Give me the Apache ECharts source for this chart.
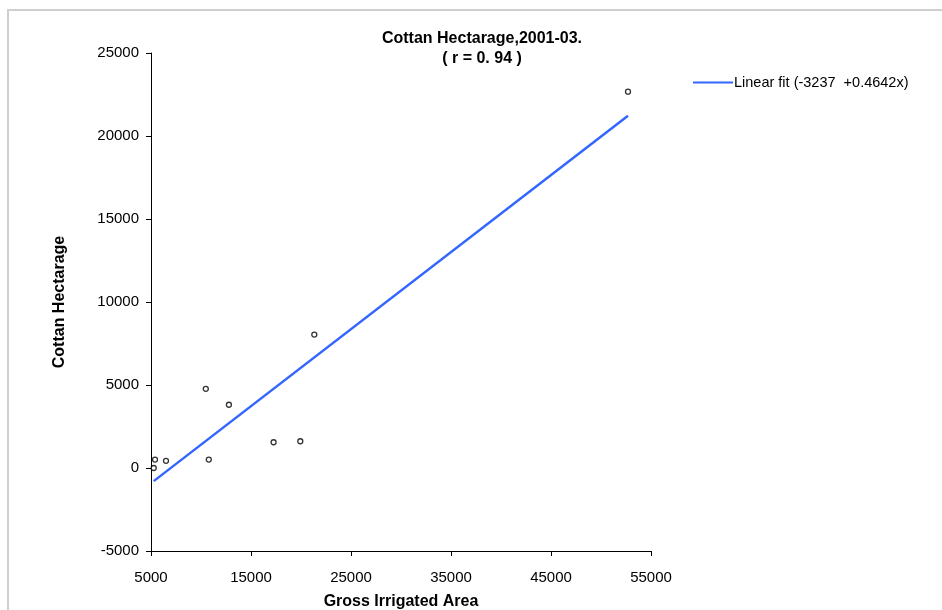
<!DOCTYPE html>
<html>
<head>
<meta charset="utf-8">
<script src="https://cdn.jsdelivr.net/npm/echarts@6/dist/echarts.min.js"></script>
<style>
  html, body { margin: 0; padding: 0; background: #fff; }
  #chart { width: 942px; height: 610px; }
</style>
</head>
<body>
<div id="chart"></div>
<script>
// Gross irrigated area (x) against cotton hectarage (y), 2001-03
const irrigatedArea = [5270, 5400, 6500, 10480, 10780, 12790, 17260, 19930, 21330, 52700];
const cottonHectarage = [0, 510, 430, 4770, 510, 3810, 1550, 1610, 8040, 22670];

// Fitted line coefficients: y = intercept + slope * x
const fitIntercept = -3237;
const fitSlope = 0.4642;
const fitLabel = 'Linear fit (-3237  +0.4642x)';

const titleText = 'Cottan Hectarage,2001-03.\n( r = 0. 94 )';
const xName = 'Gross Irrigated Area';
const yName = 'Cottan Hectarage';

const points = irrigatedArea.map((x, i) => [x, cottonHectarage[i]]);
const xMin = Math.min(...irrigatedArea);
const xMax = Math.max(...irrigatedArea);
const fitLine = [xMin, xMax].map(x => [x, fitIntercept + fitSlope * x]);

const FONT = '"Liberation Sans", Arial, sans-serif';
const plain = v => String(v);

const chart = echarts.init(document.getElementById('chart'), null, { renderer: 'canvas' });
chart.setOption({
  animation: false,
  backgroundColor: '#ffffff',
  graphic: [{
    type: 'rect',
    shape: { x: 8, y: 10, width: 1000, height: 700 },
    style: { fill: 'none', stroke: '#cfcfcf', lineWidth: 2 },
    silent: true
  }],
  title: {
    text: titleText,
    left: 482,
    top: 29,
    padding: 0,
    textAlign: 'center',
    textStyle: { fontFamily: FONT, fontSize: 16, fontWeight: 'bold', color: '#000', lineHeight: 20 }
  },
  legend: {
    data: [{ name: fitLabel, icon: 'rect' }],
    left: 693,
    top: 75,
    padding: 0,
    itemWidth: 40,
    itemHeight: 2,
    itemGap: 0,
    textStyle: { fontFamily: FONT, fontSize: 14.5, color: '#000', padding: [0, 0, 0, -4] }
  },
  grid: { left: 151, right: 291, top: 53, bottom: 59, outerBoundsMode: 'none', containLabel: false },
  xAxis: {
    type: 'value',
    min: 5000, max: 55000, interval: 10000,
    name: xName,
    nameLocation: 'middle',
    nameGap: 43,
    nameTextStyle: { fontFamily: FONT, fontSize: 16, fontWeight: 'bold', color: '#000' },
    axisLine: { onZero: false, lineStyle: { color: '#000', width: 1 } },
    axisTick: { show: true, inside: false, length: 5, lineStyle: { color: '#000' } },
    axisLabel: { fontFamily: FONT, fontSize: 15, color: '#000', margin: 19, formatter: plain },
    splitLine: { show: false }
  },
  yAxis: {
    type: 'value',
    min: -5000, max: 25000, interval: 5000,
    name: yName,
    nameLocation: 'middle',
    nameGap: 83,
    nameRotate: 90,
    nameTextStyle: { fontFamily: FONT, fontSize: 16, fontWeight: 'bold', color: '#000' },
    axisLine: { show: true, onZero: false, lineStyle: { color: '#000', width: 1 } },
    axisTick: { show: true, inside: false, length: 5, lineStyle: { color: '#000' } },
    axisLabel: { fontFamily: FONT, fontSize: 15, color: '#000', margin: 12, formatter: plain },
    splitLine: { show: false }
  },
  series: [
    {
      name: 'Observed',
      type: 'scatter',
      data: points,
      symbol: 'circle',
      symbolSize: 5,
      itemStyle: { color: '#ffffff', borderColor: '#000', borderWidth: 1.3 },
      z: 3
    },
    {
      name: fitLabel,
      type: 'line',
      data: fitLine,
      showSymbol: false,
      symbol: 'none',
      lineStyle: { color: '#3366ff', width: 2.5 },
      itemStyle: { color: '#3366ff' },
      z: 2
    }
  ]
});
</script>
</body>
</html>
